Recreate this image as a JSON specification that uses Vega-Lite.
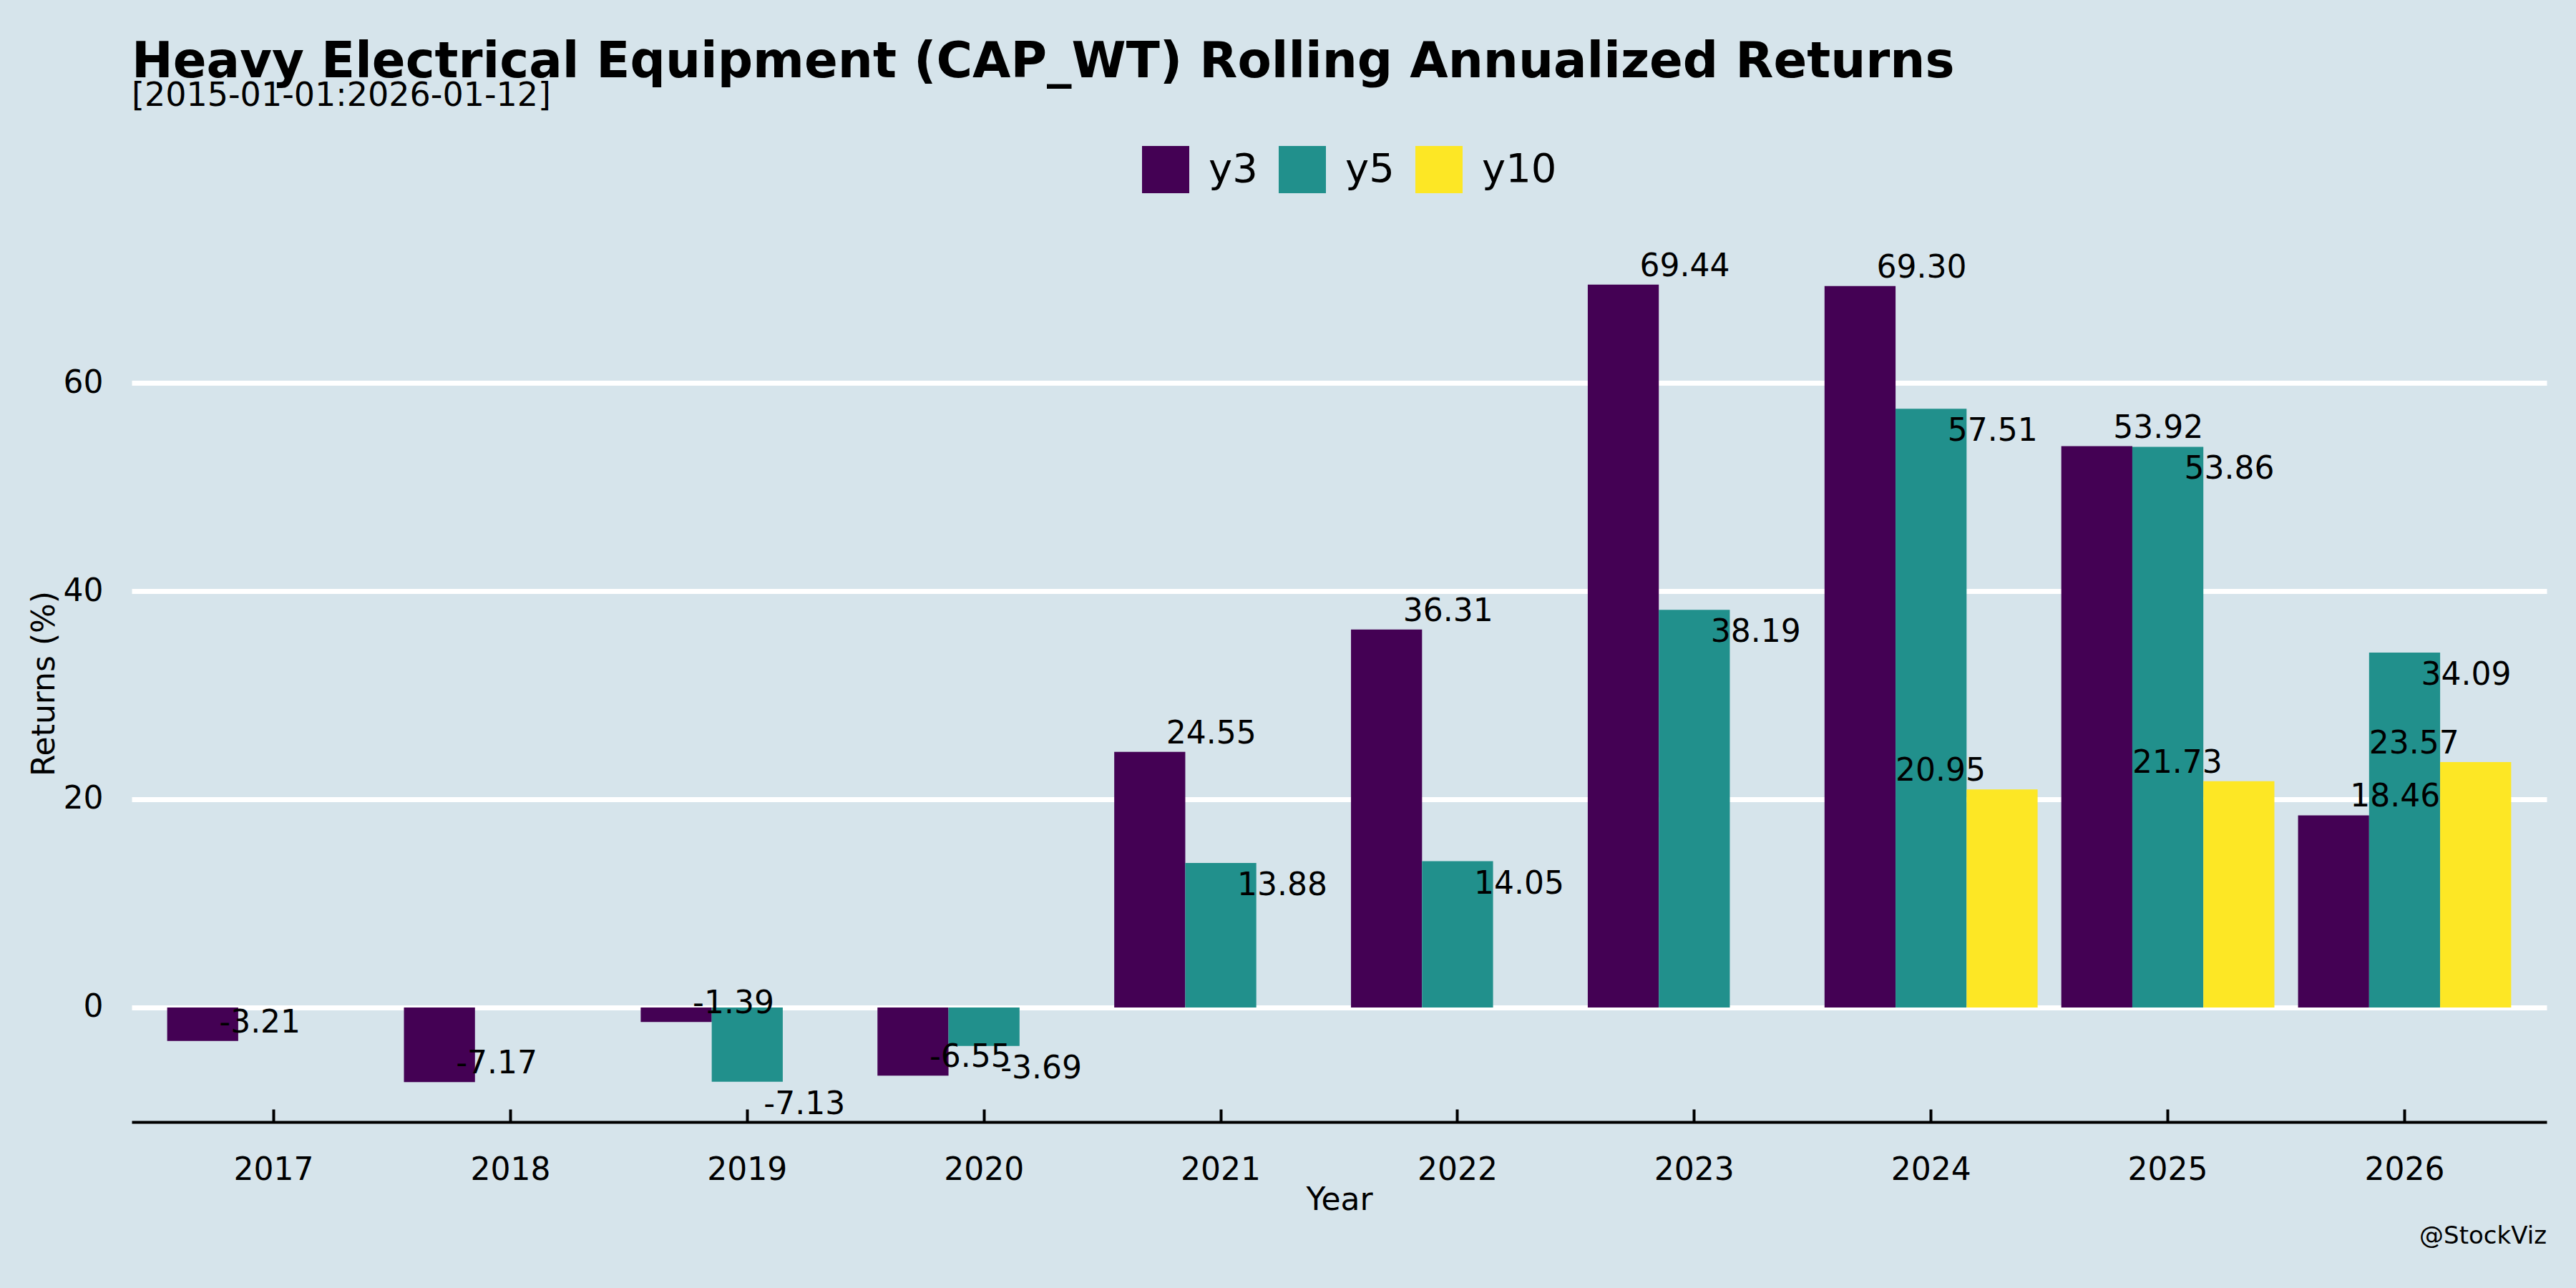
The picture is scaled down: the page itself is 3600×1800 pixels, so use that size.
{
  "$schema": "https://vega.github.io/schema/vega-lite/v6.json",
  "width": 3375,
  "height": 1226,
  "autosize": {"type": "none"},
  "padding": {"left": 184, "top": 342, "right": 41, "bottom": 232},
  "background": "#d6e4eb",
  "title": {
    "text": "Heavy Electrical Equipment (CAP_WT) Rolling Annualized Returns",
    "subtitle": "[2015-01-01:2026-01-12]",
    "anchor": "start",
    "frame": "group",
    "font": "DejaVu Sans",
    "fontSize": 69,
    "fontWeight": "bold",
    "color": "black",
    "subtitleFont": "DejaVu Sans",
    "subtitleFontSize": 46,
    "subtitleColor": "black",
    "subtitlePadding": -10,
    "offset": 47
  },
  "config": {
    "view": {"stroke": null},
    "font": "DejaVu Sans",
    "locale": {
      "number": {"decimal": ".", "thousands": ",", "grouping": [3], "currency": ["$", ""], "minus": "-"}
    },
    "axis": {
      "labelFont": "DejaVu Sans",
      "titleFont": "DejaVu Sans",
      "labelColor": "black",
      "titleColor": "black",
      "labelFontSize": 44,
      "titleFontSize": 44,
      "titleFontWeight": "normal"
    },
    "legend": {
      "labelFont": "DejaVu Sans",
      "labelFontSize": 56,
      "labelColor": "black"
    }
  },
  "data": {
    "values": [
      {"year": "2017", "series": "y3", "ret": -3.21},
      {"year": "2018", "series": "y3", "ret": -7.17},
      {"year": "2019", "series": "y3", "ret": -1.39},
      {"year": "2019", "series": "y5", "ret": -7.13},
      {"year": "2020", "series": "y3", "ret": -6.55},
      {"year": "2020", "series": "y5", "ret": -3.69},
      {"year": "2021", "series": "y3", "ret": 24.55},
      {"year": "2021", "series": "y5", "ret": 13.88},
      {"year": "2022", "series": "y3", "ret": 36.31},
      {"year": "2022", "series": "y5", "ret": 14.05},
      {"year": "2023", "series": "y3", "ret": 69.44},
      {"year": "2023", "series": "y5", "ret": 38.19},
      {"year": "2024", "series": "y3", "ret": 69.30},
      {"year": "2024", "series": "y5", "ret": 57.51},
      {"year": "2024", "series": "y10", "ret": 20.95},
      {"year": "2025", "series": "y3", "ret": 53.92},
      {"year": "2025", "series": "y5", "ret": 53.86},
      {"year": "2025", "series": "y10", "ret": 21.73},
      {"year": "2026", "series": "y3", "ret": 18.46},
      {"year": "2026", "series": "y5", "ret": 34.09},
      {"year": "2026", "series": "y10", "ret": 23.57}
    ]
  },
  "encoding": {
    "x": {
      "field": "year",
      "type": "nominal",
      "sort": ["2017","2018","2019","2020","2021","2022","2023","2024","2025","2026"],
      "scale": {"paddingInner": 0.1, "paddingOuter": 0.15},
      "axis": {
        "title": "Year",
        "labelAngle": 0,
        "grid": false,
        "domain": true,
        "domainColor": "black",
        "domainWidth": 4,
        "ticks": true,
        "tickColor": "black",
        "tickWidth": 4,
        "tickSize": -18,
        "labelPadding": 63,
        "titlePadding": -2
      }
    },
    "xOffset": {
      "field": "series",
      "type": "nominal",
      "sort": ["y3", "y5", "y10"],
      "scale": {"domain": ["y3", "y5", "y10"], "paddingInner": 0, "paddingOuter": 0}
    },
    "y": {
      "field": "ret",
      "type": "quantitative",
      "scale": {"domain": [-11.0, 73.27], "nice": false, "zero": false},
      "axis": {
        "title": "Returns (%)",
        "values": [0, 20, 40, 60],
        "domain": false,
        "ticks": false,
        "grid": true,
        "gridColor": "white",
        "gridWidth": 7,
        "labelPadding": 40,
        "titlePadding": 4
      }
    }
  },
  "layer": [
    {
      "mark": {"type": "bar", "strokeWidth": 0},
      "encoding": {
        "color": {
          "field": "series",
          "type": "nominal",
          "scale": {"domain": ["y3", "y5", "y10"], "range": ["#440154", "#21908C", "#FDE725"]},
          "legend": {
            "title": null,
            "orient": "none",
            "direction": "horizontal",
            "legendX": 1412,
            "legendY": -138,
            "padding": 0,
            "symbolType": "square",
            "symbolSize": 4356,
            "symbolStrokeWidth": 0,
            "symbolOpacity": 1,
            "labelOffset": 27,
            "columnPadding": 29
          }
        }
      }
    },
    {
      "transform": [{"filter": "datum.series === 'y3'"}],
      "mark": {"type": "text", "align": "left", "baseline": "middle", "dx": 23, "dy": -25, "fontSize": 44, "color": "black", "font": "DejaVu Sans"},
      "encoding": {
        "text": {"field": "ret", "type": "quantitative", "format": ".2f"}
      }
    },
    {
      "transform": [{"filter": "datum.series === 'y5'"}],
      "mark": {"type": "text", "align": "left", "baseline": "middle", "dx": 23, "dy": 32, "fontSize": 44, "color": "black", "font": "DejaVu Sans"},
      "encoding": {
        "text": {"field": "ret", "type": "quantitative", "format": ".2f"}
      }
    },
    {
      "transform": [{"filter": "datum.series === 'y10'"}],
      "mark": {"type": "text", "align": "right", "baseline": "middle", "dx": -23, "dy": -25, "fontSize": 44, "color": "black", "font": "DejaVu Sans"},
      "encoding": {
        "text": {"field": "ret", "type": "quantitative", "format": ".2f"}
      }
    },
    {
      "data": {"values": [{"note": "@StockViz"}]},
      "mark": {"type": "text", "align": "right", "baseline": "middle", "dy": 160, "fontSize": 34, "color": "black", "font": "DejaVu Sans"},
      "encoding": {
        "x": {"value": "width"},
        "y": {"value": "height"},
        "xOffset": null,
        "text": {"field": "note"}
      }
    }
  ]
}
